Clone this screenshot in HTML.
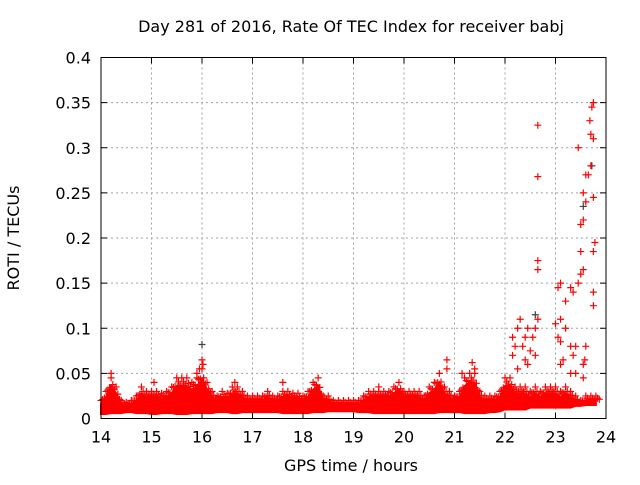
<!DOCTYPE html>
<html><head><meta charset="utf-8"><style>
body{margin:0;background:#fff}
svg text{font-family:"DejaVu Sans","Liberation Sans",sans-serif;fill:#000}
</style></head><body>
<svg id="chart" width="640" height="480" xmlns="http://www.w3.org/2000/svg">
<rect width="640" height="480" fill="#fff"/>
<text x="351" y="32" font-size="16" text-anchor="middle">Day 281 of 2016, Rate Of TEC Index for receiver babj</text>
<text x="351" y="471" font-size="16" text-anchor="middle">GPS time / hours</text>
<text transform="translate(19,238) rotate(-90)" font-size="16" text-anchor="middle">ROTI / TECUs</text>
<g id="grid"></g><g id="band"></g><g id="marks"></g><g id="axes"></g>
</svg>
<script>
const xTicks=[14,15,16,17,18,19,20,21,22,23,24];
const yTicks=[0,0.05,0.1,0.15,0.2,0.25,0.3,0.35,0.4];
const yTickLabels=["0","0.05","0.1","0.15","0.2","0.25","0.3","0.35","0.4"];
const bandStart=14.0, bandStep=0.1;
const bandHigh=[0.02,0.03,0.045,0.035,0.02,0.018,0.02,0.025,0.035,0.03,
0.03,0.03,0.028,0.03,0.035,0.045,0.045,0.045,0.04,0.045,
0.055,0.04,0.03,0.025,0.03,0.028,0.035,0.035,0.03,0.025,
0.025,0.025,0.025,0.03,0.025,0.025,0.03,0.03,0.028,0.028,
0.025,0.03,0.04,0.045,0.025,0.025,0.02,0.02,0.02,0.02,
0.02,0.02,0.025,0.03,0.03,0.03,0.03,0.03,0.035,0.04,
0.03,0.03,0.03,0.03,0.025,0.035,0.04,0.05,0.035,0.03,
0.025,0.03,0.045,0.05,0.05,0.03,0.025,0.025,0.025,0.03,
0.045,0.045,0.035,0.035,0.035,0.03,0.035,0.03,0.035,0.035,
0.035,0.03,0.035,0.03,0.025,0.02,0.025,0.025,0.025];
const bandLow=[0.005,0.005,0.006,0.006,0.006,0.007,0.007,0.006,0.006,0.006,
0.005,0.005,0.006,0.006,0.006,0.005,0.005,0.005,0.006,0.006,
0.006,0.006,0.006,0.007,0.007,0.007,0.006,0.006,0.007,0.007,
0.007,0.007,0.007,0.007,0.007,0.007,0.006,0.006,0.006,0.006,
0.006,0.006,0.007,0.007,0.007,0.008,0.008,0.008,0.008,0.008,
0.008,0.007,0.007,0.007,0.006,0.006,0.006,0.006,0.006,0.006,
0.006,0.006,0.006,0.006,0.006,0.006,0.006,0.007,0.007,0.007,
0.007,0.007,0.006,0.006,0.006,0.006,0.006,0.007,0.007,0.008,
0.01,0.01,0.01,0.01,0.01,0.012,0.012,0.012,0.012,0.012,
0.012,0.012,0.012,0.012,0.014,0.014,0.015,0.015,0.015];
const outT=[16.0,15.95,22.65,22.65,22.65,22.65,23.75,23.72,23.68,23.7,23.75,23.7,23.65,23.6,23.45,23.55,23.6,23.55,23.5,23.75,23.78,23.75,23.5,23.55,23.5,23.45,23.35,23.3,23.2,23.1,23.05,23.0,23.1,23.2,23.3,23.35,23.4,23.6,23.58,23.55,23.55,23.75,23.75,22.65,22.6,22.55,22.45,22.4,22.35,22.3,22.25,22.2,22.15,22.15,22.5,22.4,22.6,22.45,22.25,23.05,23.1,23.15,23.3,23.4,23.1,20.85,20.85,21.35,21.4,21.15,17.6,15.05,19.5,16.65,14.2,16.02,15.9];
const outV=[0.065,0.055,0.325,0.268,0.175,0.165,0.35,0.345,0.33,0.315,0.31,0.28,0.27,0.27,0.3,0.25,0.24,0.22,0.215,0.245,0.195,0.185,0.185,0.165,0.16,0.15,0.14,0.145,0.13,0.15,0.145,0.105,0.11,0.1,0.08,0.07,0.08,0.08,0.065,0.06,0.045,0.14,0.125,0.11,0.1,0.09,0.1,0.09,0.08,0.11,0.1,0.08,0.07,0.09,0.075,0.065,0.07,0.06,0.055,0.09,0.085,0.065,0.05,0.05,0.06,0.065,0.055,0.062,0.055,0.05,0.04,0.04,0.035,0.04,0.05,0.06,0.05];
const grayT=[16.0,23.72,23.55,22.6];
const grayV=[0.082,0.28,0.235,0.115];
const L=101,R=606,T=57.5,B=418.5;
const sx=t=>L+(t-14)/10*(R-L);
const sy=v=>B-v/0.4*(B-T);
const NS="http://www.w3.org/2000/svg";
function mk(tag,parent,attrs){const e=document.createElementNS(NS,tag);for(const k in attrs)e.setAttribute(k,attrs[k]);document.getElementById(parent).appendChild(e);return e;}
xTicks.forEach((t,i)=>{
 if(i>0&&i<xTicks.length-1){const g=mk('line','grid',{x1:sx(t),x2:sx(t),y1:T,y2:B,stroke:'#a0a0a0','stroke-dasharray':'2,3'});
 
 }
 const l=mk('text','axes',{x:sx(t),y:B+24,'font-size':16,'text-anchor':'middle'});l.textContent=t;
 
 
 mk('line','axes',{x1:sx(t),x2:sx(t),y1:B,y2:B-6,stroke:'#000'});
 mk('line','axes',{x1:sx(t),x2:sx(t),y1:T,y2:T+6,stroke:'#000'});
});
yTicks.forEach((v,i)=>{
 if(i>0&&i<yTicks.length-1){const g=mk('line','grid',{x1:L,x2:R,y1:sy(v),y2:sy(v),stroke:'#a0a0a0','stroke-dasharray':'2,3'});
 
 }
 const l=mk('text','axes',{x:L-10,y:sy(v)+6,'font-size':16,'text-anchor':'end'});l.textContent=yTickLabels[i];
 
 
 mk('line','axes',{x1:L,x2:L+6,y1:sy(v),y2:sy(v),stroke:'#000'});
 mk('line','axes',{x1:R,x2:R-6,y1:sy(v),y2:sy(v),stroke:'#000'});
});
const fr=mk('rect','axes',{x:L,y:T,width:R-L,height:B-T,fill:'none',stroke:'#000'});


let pts=[];
bandHigh.forEach((v,i)=>pts.push(sx(bandStart+i*bandStep)+','+sy(v*0.8)));
for(let i=bandLow.length-1;i>=0;i--)pts.push(sx(bandStart+i*bandStep)+','+sy(bandLow[i]));
const band=mk('polygon','band',{points:pts.join(' '),fill:'#ff0000',stroke:'#ff0000','stroke-width':2});


function plus(t,v,c,name){const x=sx(t),y=sy(v);
 const p=mk('path','marks',{d:`M${x-3.5},${y}h7M${x},${y-3.5}v7`,stroke:c,'stroke-width':1.2,fill:'none'});
 
 }
bandHigh.forEach((v,i)=>{
 const nx=(bandHigh[i+1]||v);
 plus(bandStart+i*bandStep,v,'#ff0000','roti-point');
 plus(bandStart+(i+0.33)*bandStep,(2*v+nx)/3*0.9,'#ff0000','roti-point');
 plus(bandStart+(i+0.67)*bandStep,(v+2*nx)/3*0.85,'#ff0000','roti-point');
});
grayT.forEach((t,i)=>plus(t,grayV[i],'#404040','roti-point-gray'));
outT.forEach((t,i)=>plus(t,outV[i],'#ff0000','roti-outlier'));
</script>
</body></html>
